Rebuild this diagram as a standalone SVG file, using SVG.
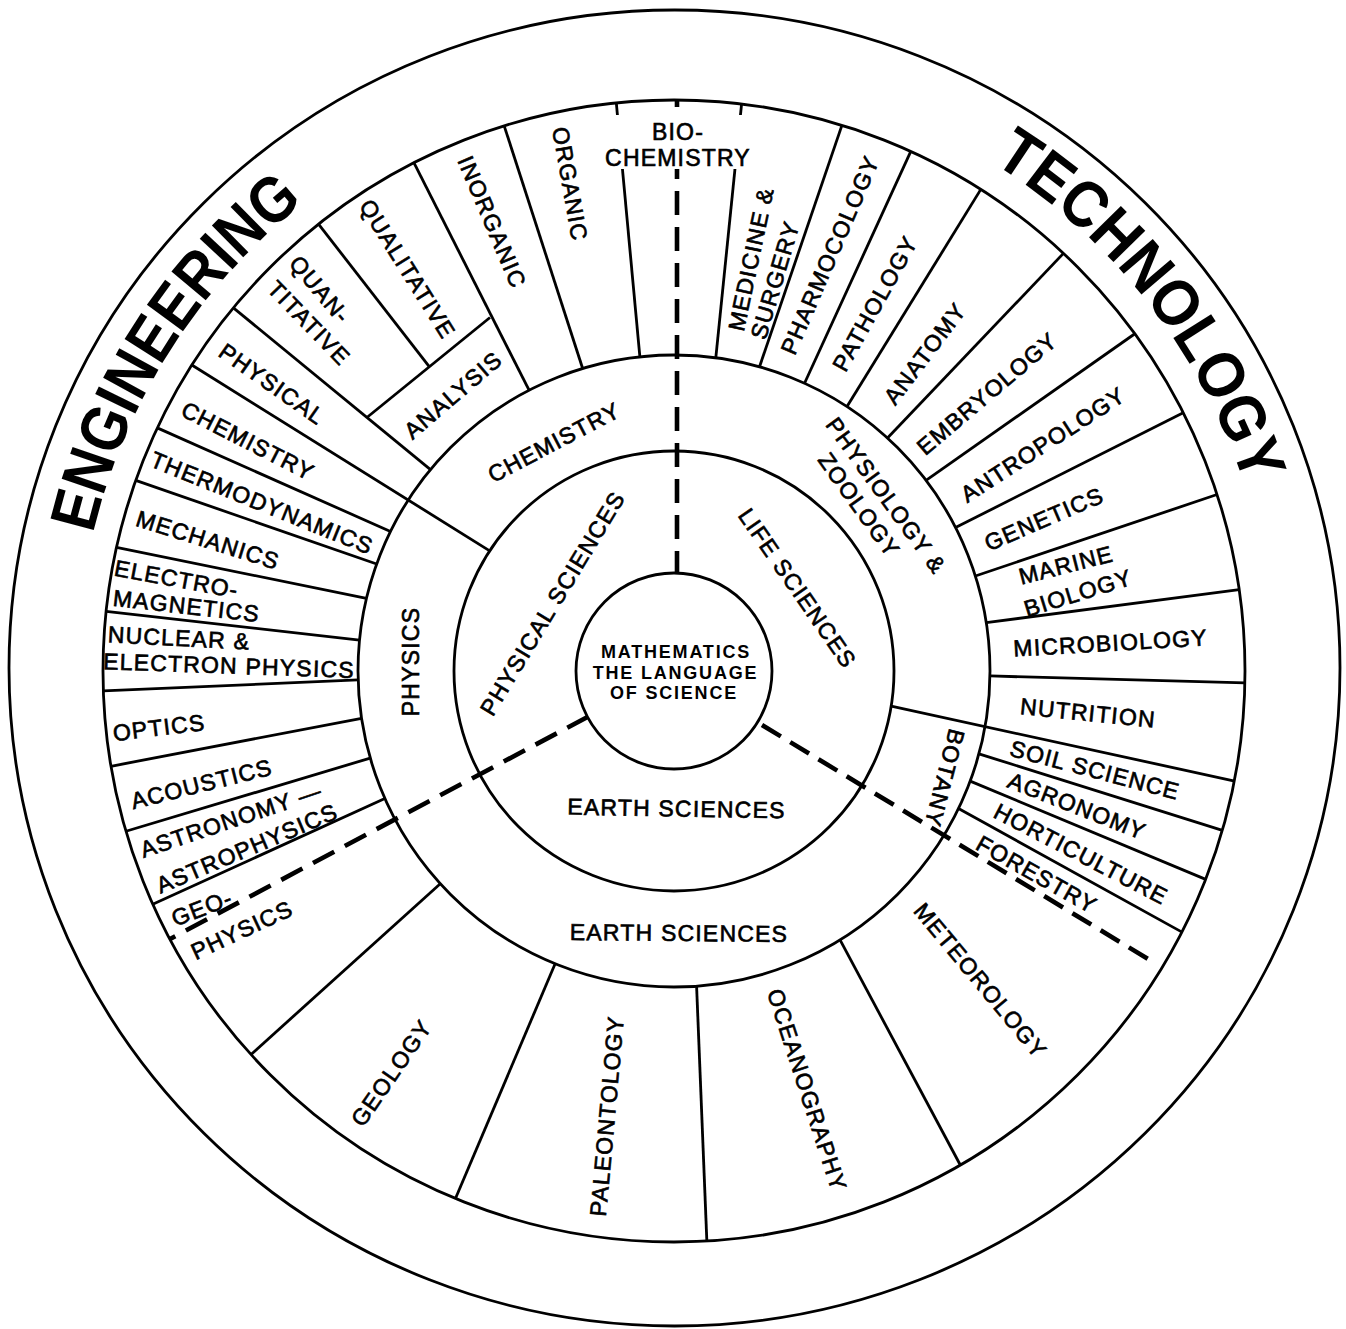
<svg xmlns="http://www.w3.org/2000/svg" width="1346" height="1329" viewBox="0 0 1346 1329">
<style>
.ln{stroke:#000;stroke-width:2.8;fill:none}
.dash{stroke:#000;stroke-width:4.6;fill:none}
text{font-family:"Liberation Sans",Arial,Helvetica,sans-serif;fill:#000}
.t{font-size:23px;text-anchor:middle;letter-spacing:1.2px;stroke:#000;stroke-width:0.65px}
.m{font-size:18px;font-weight:bold;text-anchor:middle;letter-spacing:1.8px}
.big{font-size:65px;font-weight:bold;text-anchor:middle}
</style>
<defs>
<path id="engArc" d="M77.4 650.2 A597 597 0 0 1 403 139.1"/>
<path id="techArc" d="M898.8 114.7 A600 600 0 0 1 1268.2 587.5"/>
</defs>
<rect width="1346" height="1329" fill="#fff"/>

<g id="rings" class="ln">
<ellipse cx="674.5" cy="668" rx="665.5" ry="658"/>
<circle cx="674" cy="671" r="571"/>
<circle cx="674" cy="671" r="316"/>
<circle cx="674" cy="671" r="220"/>
<circle cx="674" cy="671" r="98"/>
</g>

<g id="connectors">
<g class="ln" transform="translate(674 671)">
<line transform="rotate(263.8)" x1="316" x2="571" y2="4"/>
<line transform="rotate(253.2)" x1="316" x2="571" y2="-5"/>
<line transform="rotate(242.7)" x1="316" x2="571" y2="2"/>
<line transform="rotate(231.2)" x1="390" x2="571" y2="3"/>
<line transform="rotate(219.6)" x1="316" x2="571" y2="-1"/>
<line transform="rotate(213.1)" x1="220" x2="571" y2="-7"/>
<line transform="rotate(206.2)" x1="316" x2="571" y2="-10"/>
<line transform="rotate(199.8)" x1="316" x2="571" y2="-3"/>
<line transform="rotate(193.3)" x1="316" x2="571" y2="-8"/>
<line transform="rotate(185.6)" x1="316" x2="571" y2="4"/>
<line transform="rotate(178.4)" x1="316" x2="571" y2="-4"/>
<line transform="rotate(171.4)" x1="316" x2="571" y2="-10"/>
<line transform="rotate(164)" x1="316" x2="571" y2="-3"/>
<line transform="rotate(156.2)" x1="316" x2="571" y2="-3"/>
<line transform="rotate(137.7)" x1="316" x2="571" y2="1"/>
<line transform="rotate(112.1)" x1="316" x2="571" y2="4"/>
<line transform="rotate(85.9)" x1="316" x2="571" y2="8"/>
<line transform="rotate(58.3)" x1="316" x2="571" y2="16"/>
<line transform="rotate(25.8)" x1="316" x2="571" y2="14"/>
<line transform="rotate(20.4)" x1="316" x2="571" y2="10"/>
<line transform="rotate(15.2)" x1="316" x2="571" y2="10"/>
<line transform="rotate(9.2)" x1="220" x2="571" y2="19"/>
<line transform="rotate(0.9)" x1="316" x2="571" y2="3"/>
<line transform="rotate(-8.8)" x1="316" x2="571" y2="6"/>
<line transform="rotate(-17.5)" x1="316" x2="571" y2="-5"/>
<line transform="rotate(-27)" x1="316" x2="571" y2="1"/>
<line transform="rotate(-37.1)" x1="316" x2="571" y2="9"/>
<line transform="rotate(-47.5)" x1="316" x2="571" y2="5"/>
<line transform="rotate(-56.8)" x1="316" x2="571" y2="-7"/>
<line transform="rotate(-65.6)" x1="316" x2="571" y2="1"/>
<line transform="rotate(-74.3)" x1="316" x2="571" y2="14"/>
<line transform="rotate(-82.4)" x1="316" x2="571" y2="-8"/>
</g>
<line class="ln" x1="367.5" y1="417" x2="490" y2="317.5"/>
<path class="dash" d="M677 101 V573" stroke-dasharray="24 12" stroke-dashoffset="18"/>
<path class="dash" d="M170 939 L587.5 717" stroke-dasharray="24 12" stroke-dashoffset="18"/>
<path class="dash" d="M762 725 L1148 959" stroke-dasharray="22 11"/>
</g>

<rect x="598" y="115" width="162" height="54" fill="#fff"/>

<g id="n-engineering"><text class="big"><textPath href="#engArc" startOffset="50%" textLength="400" lengthAdjust="spacingAndGlyphs">ENGINEERING</textPath></text></g>
<g id="n-technology"><text class="big"><textPath href="#techArc" startOffset="50%" textLength="418" lengthAdjust="spacingAndGlyphs">TECHNOLOGY</textPath></text></g>

<g id="n-mathematics">
<text class="m" x="676" y="658">MATHEMATICS</text>
<text class="m" x="675.5" y="679">THE LANGUAGE</text>
<text class="m" x="674" y="699">OF SCIENCE</text>
</g>

<g id="n-physical-sciences"><text class="t" transform="translate(552.5 603.3) rotate(-58.8)" y="8">PHYSICAL SCIENCES</text></g>
<g id="n-life-sciences"><text class="t" transform="translate(797.5 588.3) rotate(55.3)" y="8">LIFE SCIENCES</text></g>
<g id="n-earth-sciences-inner"><text class="t" transform="translate(676.5 808.5) rotate(1)" y="8">EARTH SCIENCES</text></g>

<g id="n-chemistry-mid"><text class="t" transform="translate(554 442.3) rotate(-27.7)" y="8">CHEMISTRY</text></g>
<g id="n-physics-mid"><text class="t" transform="translate(411 661.5) rotate(-90)" y="8">PHYSICS</text></g>
<g id="n-physiology-zoology">
<text class="t" transform="translate(886 495.5) rotate(54)" y="8">PHYSIOLOGY &amp;</text>
<text class="t" transform="translate(859 505) rotate(54.4)" y="8">ZOOLOGY</text>
</g>
<g id="n-botany"><text class="t" transform="translate(944.6 778) rotate(104.6)" y="8">BOTANY</text></g>
<g id="n-earth-sciences-mid"><text class="t" transform="translate(679 933) rotate(0.5)" y="8">EARTH SCIENCES</text></g>

<g id="n-biochemistry">
<text class="t" x="678" y="140">BIO-</text>
<text class="t" x="678" y="166">CHEMISTRY</text>
</g>
<g id="n-organic"><text class="t" transform="translate(570 184) rotate(80)" y="8">ORGANIC</text></g>
<g id="n-inorganic"><text class="t" transform="translate(492 222) rotate(67)" y="8">INORGANIC</text></g>
<g id="n-qualitative"><text class="t" transform="translate(407.5 269) rotate(58)" y="8">QUALITATIVE</text></g>
<g id="n-quantitative">
<text class="t" transform="translate(320 289.5) rotate(50)" y="8">QUAN-</text>
<text class="t" transform="translate(309 323) rotate(46)" y="8">TITATIVE</text>
</g>
<g id="n-analysis"><text class="t" transform="translate(453 395) rotate(-40.5)" y="8">ANALYSIS</text></g>
<g id="n-physical"><text class="t" transform="translate(272 384) rotate(35)" y="8">PHYSICAL</text></g>
<g id="n-chemistry-outer"><text class="t" transform="translate(248 441) rotate(27)" y="8">CHEMISTRY</text></g>
<g id="n-thermodynamics"><text class="t" transform="translate(262 503) rotate(22)" y="8">THERMODYNAMICS</text></g>
<g id="n-mechanics"><text class="t" transform="translate(208 540) rotate(17.4)" y="8">MECHANICS</text></g>
<g id="n-electromagnetics">
<text class="t" transform="translate(176.6 579) rotate(10.5)" y="8">ELECTRO-</text>
<text class="t" transform="translate(186.5 606) rotate(6.4)" y="8">MAGNETICS</text>
</g>
<g id="n-nuclear">
<text class="t" transform="translate(179 638) rotate(3)" y="8">NUCLEAR &amp;</text>
<text class="t" transform="translate(229 665.6) rotate(2)" y="8">ELECTRON PHYSICS</text>
</g>
<g id="n-optics"><text class="t" transform="translate(159 727.6) rotate(-7)" y="8">OPTICS</text></g>
<g id="n-acoustics"><text class="t" transform="translate(201.6 784) rotate(-14)" y="8">ACOUSTICS</text></g>
<g id="n-astronomy">
<text class="t" transform="translate(231 820) rotate(-18.7)" y="8">ASTRONOMY —</text>
<text class="t" transform="translate(247 848.3) rotate(-23)" y="8">ASTROPHYSICS</text>
</g>
<g id="n-geophysics">
<text class="t" transform="translate(202 908) rotate(-21)" y="8">GEO-</text>
<text class="t" transform="translate(242 930) rotate(-25)" y="8">PHYSICS</text>
</g>
<g id="n-geology"><text class="t" transform="translate(391.4 1073) rotate(-55.4)" y="8">GEOLOGY</text></g>
<g id="n-paleontology"><text class="t" transform="translate(607 1116) rotate(-84.8)" y="8">PALEONTOLOGY</text></g>
<g id="n-oceanography"><text class="t" transform="translate(807 1090) rotate(72)" y="8">OCEANOGRAPHY</text></g>
<g id="n-meteorology"><text class="t" transform="translate(980.5 980.6) rotate(50.3)" y="8">METEOROLOGY</text></g>
<g id="n-forestry"><text class="t" transform="translate(1036.7 874.4) rotate(29.4)" y="8">FORESTRY</text></g>
<g id="n-horticulture"><text class="t" transform="translate(1081 854) rotate(27.4)" y="8">HORTICULTURE</text></g>
<g id="n-agronomy"><text class="t" transform="translate(1077 806) rotate(21.5)" y="8">AGRONOMY</text></g>
<g id="n-soil-science"><text class="t" transform="translate(1095 770) rotate(14.8)" y="8">SOIL SCIENCE</text></g>
<g id="n-nutrition"><text class="t" transform="translate(1088 713) rotate(5.8)" y="8">NUTRITION</text></g>
<g id="n-microbiology"><text class="t" transform="translate(1110.5 643) rotate(-3.3)" y="8">MICROBIOLOGY</text></g>
<g id="n-marine-biology">
<text class="t" transform="translate(1066 565) rotate(-14.3)" y="8">MARINE</text>
<text class="t" transform="translate(1078 593) rotate(-17.2)" y="8">BIOLOGY</text>
</g>
<g id="n-genetics"><text class="t" transform="translate(1044 519) rotate(-23.2)" y="8">GENETICS</text></g>
<g id="n-antropology"><text class="t" transform="translate(1043 444.5) rotate(-33)" y="8">ANTROPOLOGY</text></g>
<g id="n-embryology"><text class="t" transform="translate(987 393.5) rotate(-40.2)" y="8">EMBRYOLOGY</text></g>
<g id="n-anatomy"><text class="t" transform="translate(925 353.4) rotate(-53)" y="8">ANATOMY</text></g>
<g id="n-pathology"><text class="t" transform="translate(875 303.5) rotate(-61)" y="8">PATHOLOGY</text></g>
<g id="n-pharmocology"><text class="t" transform="translate(830 255) rotate(-66.5)" y="8">PHARMOCOLOGY</text></g>
<g id="n-medicine-surgery">
<text class="t" transform="translate(751 259) rotate(-78)" y="8">MEDICINE &amp;</text>
<text class="t" transform="translate(775 280) rotate(-73.5)" y="8">SURGERY</text>
</g>
</svg>
